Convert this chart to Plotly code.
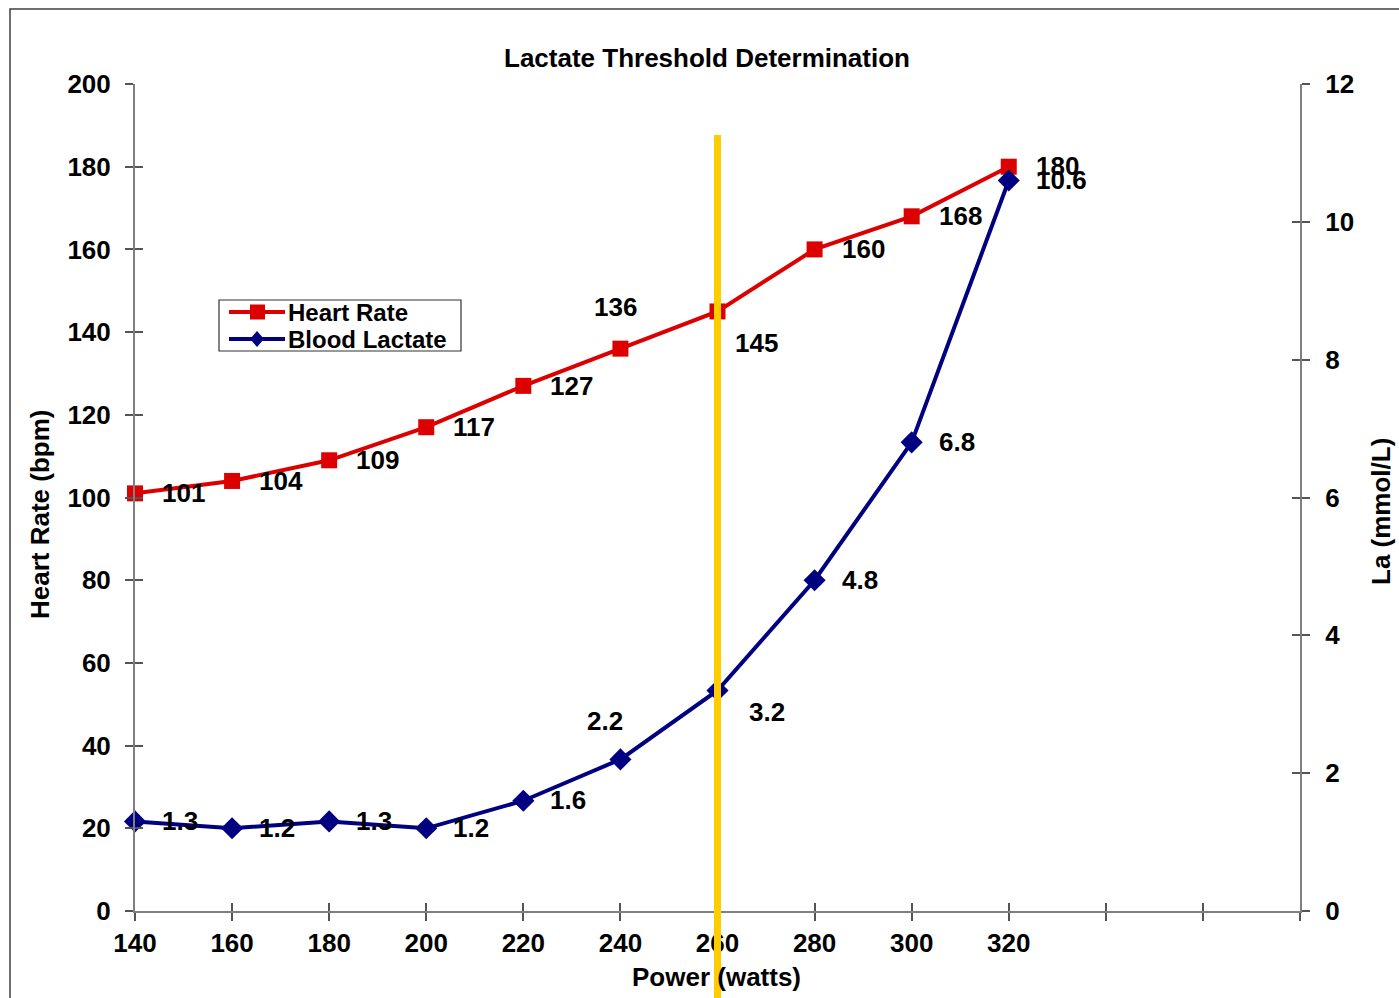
import plotly.graph_objects as go

# ---- data ----
power = [140, 160, 180, 200, 220, 240, 260, 280, 300, 320]
heart_rate = [101, 104, 109, 117, 127, 136, 145, 160, 168, 180]
lactate = [1.3, 1.2, 1.3, 1.2, 1.6, 2.2, 3.2, 4.8, 6.8, 10.6]
x_ticks = [140, 160, 180, 200, 220, 240, 260, 280, 300, 320, 340, 360, 380]
x_tick_text = ["140", "160", "180", "200", "220", "240", "260", "280", "300", "320", "", "", ""]
hr_ticks = [0, 20, 40, 60, 80, 100, 120, 140, 160, 180, 200]
la_ticks = [0, 2, 4, 6, 8, 10, 12]
threshold = 260
series_names = ["Heart Rate", "Blood Lactate"]

# label offsets (pixels) per point
hr_lab_dx = [25, 25, 25, 25, 25, -5, 15, 25, 25, 25]
hr_lab_dy = [0, 0, 0, 0, 0, 42, -32, 0, 0, 1]
hr_lab_anchor = ["left"] * 5 + ["center", "left"] + ["left"] * 3
la_lab_dx = [25, 25, 25, 25, 25, -15, 29, 25, 25, 25]
la_lab_dy = [0, 0, 0, 0, 1, 38, -22, 0, 0, 0]
la_lab_anchor = ["left"] * 5 + ["center", "left"] + ["left"] * 3

RED = "#DD0000"
NAVY = "#000080"
AXIS = "#7F7F7F"
FONT = "Liberation Sans, Arial, sans-serif"
FS = 26
W, H = 1399, 998
L, R, T, B = 135, 1300, 84, 911


def px(p):
    return (p - L) / (R - L)


def py(p):
    return (B - p) / (B - T)


fig = go.Figure()
fig.add_trace(go.Scatter(
    x=power, y=heart_rate, name=series_names[0], mode="lines+markers",
    line=dict(color=RED, width=4), marker=dict(symbol="square", size=16, color=RED),
    cliponaxis=False, xaxis="x", yaxis="y", showlegend=False))
fig.add_trace(go.Scatter(
    x=power, y=lactate, name=series_names[1], mode="lines+markers",
    line=dict(color=NAVY, width=4), marker=dict(symbol="diamond", size=17, color=NAVY),
    cliponaxis=False, xaxis="x", yaxis="y2", showlegend=False))

lab_font = dict(family=FONT, size=FS, color="black", weight="bold")
annotations = []
for xv, yv, dx, dy, an in zip(power, heart_rate, hr_lab_dx, hr_lab_dy, hr_lab_anchor):
    annotations.append(dict(x=xv, y=yv, xref="x", yref="y", text=str(yv), showarrow=False,
                            xanchor=an, yanchor="middle", xshift=dx, yshift=dy, font=lab_font))
for xv, yv, dx, dy, an in zip(power, lactate, la_lab_dx, la_lab_dy, la_lab_anchor):
    annotations.append(dict(x=xv, y=yv, xref="x", yref="y2", text=str(yv), showarrow=False,
                            xanchor=an, yanchor="middle", xshift=dx, yshift=dy, font=lab_font))

title_font = dict(family=FONT, size=FS, color="black", weight="bold")
annotations += [
    dict(x=px(40), y=py(515), xref="paper", yref="paper", text="Heart Rate (bpm)", textangle=-90,
         showarrow=False, xanchor="center", yanchor="middle", font=title_font),
    dict(x=px(1381), y=py(511), xref="paper", yref="paper", text="La (mmol/L)", textangle=-90,
         showarrow=False, xanchor="center", yanchor="middle", font=title_font),
    dict(x=px(716), y=py(977), xref="paper", yref="paper", text="Power (watts)",
         showarrow=False, xanchor="center", yanchor="middle", font=title_font),
    dict(x=px(707), y=py(58), xref="paper", yref="paper", text="Lactate Threshold Determination",
         showarrow=False, xanchor="center", yanchor="middle", font=title_font),
]

# ---- hand-built legend (box, sample lines, glyphs, text) ----
leg_font = dict(family=FONT, size=24, color="black", weight="bold")
leg_rows = [312, 339]
leg_colors = [RED, NAVY]
shapes = [
    dict(type="rect", xref="paper", yref="paper", x0=px(10), x1=px(1420), y0=py(1020), y1=py(9),
         line=dict(color="#404040", width=1.5), fillcolor="rgba(0,0,0,0)", layer="below"),
    dict(type="rect", xref="paper", yref="paper", x0=px(219), x1=px(461), y0=py(351), y1=py(300),
         line=dict(color="#333333", width=1.2), fillcolor="white", layer="above"),
]
for row, col, name in zip(leg_rows, leg_colors, series_names):
    shapes.append(dict(type="line", xref="paper", yref="paper", x0=px(229), x1=px(285),
                       y0=py(row), y1=py(row), line=dict(color=col, width=4), layer="above"))
    annotations.append(dict(x=px(286), y=py(row), xref="paper", yref="paper", text=name,
                            showarrow=False, xanchor="left", yanchor="middle", font=leg_font))
# square glyph
shapes.append(dict(type="rect", xref="paper", yref="paper", x0=px(250), x1=px(265),
                   y0=py(leg_rows[0] + 7.5), y1=py(leg_rows[0] - 7.5),
                   line=dict(width=0), fillcolor=RED, layer="above"))
# diamond glyph
cx, cy = 257, leg_rows[1]
dpath = "M {:.5f},{:.5f} L {:.5f},{:.5f} L {:.5f},{:.5f} L {:.5f},{:.5f} Z".format(
    px(cx), py(cy - 8), px(cx + 7), py(cy), px(cx), py(cy + 8), px(cx - 7), py(cy))
shapes.append(dict(type="path", xref="paper", yref="paper", path=dpath,
                   line=dict(width=0), fillcolor=NAVY, layer="above"))
# threshold line
shapes.append(dict(type="line", xref="x", yref="paper", x0=threshold, x1=threshold,
                   y0=py(1005), y1=py(135), line=dict(color="#FFCC00", width=7), layer="above"))

tickfont = dict(family=FONT, size=FS, color="black", weight="bold")
common = dict(showgrid=False, zeroline=False, ticklen=8, tickwidth=1.5, tickcolor="#555555")

fig.update_layout(
    width=W, height=H,
    margin=dict(l=L, r=W - R, t=T, b=H - B),
    paper_bgcolor="white", plot_bgcolor="white",
    showlegend=False,
    xaxis=dict(range=[140, 380], tickmode="array", tickvals=x_ticks, ticktext=x_tick_text,
               ticks="outside", showline=True, linecolor=AXIS, linewidth=2,
               tickfont=tickfont, ticklabelstandoff=0, anchor="y", **common),
    xaxis2=dict(range=[140, 380], tickmode="array", tickvals=x_ticks, overlaying="x",
                ticks="inside", showticklabels=False, showline=False, anchor="y", side="bottom", **common),
    yaxis=dict(range=[0, 200], tickmode="array", tickvals=hr_ticks, ticks="outside",
               showline=True, linecolor=AXIS, linewidth=2, tickfont=tickfont,
               ticklabelstandoff=9, anchor="x", **common),
    yaxis2=dict(range=[0, 12], tickmode="array", tickvals=la_ticks, ticks="outside",
                showline=True, linecolor=AXIS, linewidth=2, tickfont=tickfont,
                ticklabelstandoff=10, overlaying="y", side="right", anchor="x", **common),
    yaxis3=dict(range=[0, 200], tickmode="array", tickvals=hr_ticks, ticks="inside",
                showticklabels=False, showline=False, overlaying="y", side="left", anchor="x", **common),
    yaxis4=dict(range=[0, 12], tickmode="array", tickvals=la_ticks, ticks="inside",
                showticklabels=False, showline=False, overlaying="y", side="right", anchor="x", **common),
    annotations=annotations,
    shapes=shapes,
)
# invisible traces to activate the helper axes (cross tick marks)
fig.add_trace(go.Scatter(x=[None], y=[None], xaxis="x2", yaxis="y3", showlegend=False, hoverinfo="skip"))
fig.add_trace(go.Scatter(x=[None], y=[None], xaxis="x", yaxis="y4", showlegend=False, hoverinfo="skip"))

fig.write_html("out.html")
